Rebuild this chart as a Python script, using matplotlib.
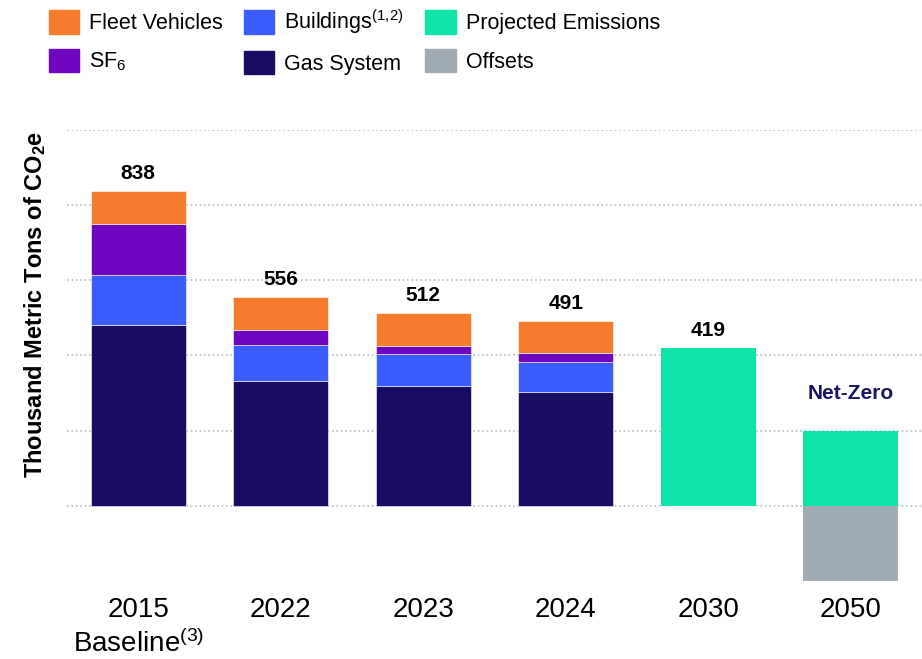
import matplotlib
matplotlib.use('Agg')
import numpy as np
import matplotlib.pyplot as plt
from matplotlib.patches import Patch

plt.rcParams['font.family'] = ['Liberation Sans', 'DejaVu Sans']
plt.rcParams['mathtext.default'] = 'regular'

# dados
anos = ['2015\nBaseline$^{(3)}$', '2022', '2023', '2024', '2030', '2050']
gas = [482, 333, 318, 302, 0, 0]
predios = [131, 94, 86, 82, 0, 0]
sf6 = [137, 42, 20, 22, 0, 0]
frota = [88, 87, 88, 85, 0, 0]
projetado = [0, 0, 0, 0, 419, 200]
compensacao = [0, 0, 0, 0, 0, -200]
totais = [838, 556, 512, 491, 419]

cores = {
    'frota': '#F47C2C',
    'sf6': '#6E05BF',
    'predios': '#3B5CFF',
    'gas': '#180D63',
    'proj': '#0FE3AA',
    'offs': '#A0ABB3',
}

fig = plt.figure(figsize=(9.22, 6.59), dpi=100)
ax = fig.add_axes([0.0727, 0.1184, 0.9273, 0.6843])

x = np.arange(len(anos))
w = 0.667
base = np.zeros(len(anos))
for vals, c in [(gas, 'gas'), (predios, 'predios'), (sf6, 'sf6'), (frota, 'frota')]:
    ax.bar(x, vals, w, bottom=base, color=cores[c], edgecolor='white', linewidth=0.4, zorder=3)
    base += np.array(vals)
ax.bar(x, projetado, w, color=cores['proj'], zorder=3)
ax.bar(x, compensacao, w, color=cores['offs'], zorder=3)

for i, t in enumerate(totais):
    ax.annotate(str(t), (x[i], t), xytext=(0, 6), textcoords='offset points',
                ha='center', va='bottom', fontsize=15, fontweight='bold')
ax.text(x[5], 299, 'Net-Zero', ha='center', va='center', fontsize=15,
        fontweight='bold', color='#1A1466')

ax.set_xlim(-0.5, 5.5)
ax.set_ylim(-200, 1000)
ax.set_yticks([0, 200, 400, 600, 800, 1000])
ax.set_yticklabels([])
ax.grid(axis='y', color='#B8BCC4', linestyle=':', linewidth=1.2, zorder=0)
ax.tick_params(left=False, bottom=False, labelsize=20, pad=8)
ax.set_xticks(x)
ax.set_xticklabels(anos, linespacing=1.28)
for s in ax.spines.values():
    s.set_visible(False)

fig.text(0.038, 0.538, 'Thousand Metric Tons of CO$_2$e', rotation=90, ha='center',
         va='center', fontsize=17, fontweight='bold')

handles = [
    Patch(color=cores['frota'], label='Fleet Vehicles'),
    Patch(color=cores['sf6'], label='SF$_6$'),
    Patch(color=cores['predios'], label='Buildings$^{(1{,}2)}$'),
    Patch(color=cores['gas'], label='Gas System'),
    Patch(color=cores['proj'], label='Projected Emissions'),
    Patch(color=cores['offs'], label='Offsets'),
]
fig.legend(handles=handles, ncol=3, loc='upper left', bbox_to_anchor=(0.041, 1.005),
           frameon=False, fontsize=15.5, handlelength=1.4, handleheight=1.3,
           handletextpad=0.47, columnspacing=1.0, labelspacing=0.69, borderpad=0)

plt.savefig('out.png', dpi=100)
